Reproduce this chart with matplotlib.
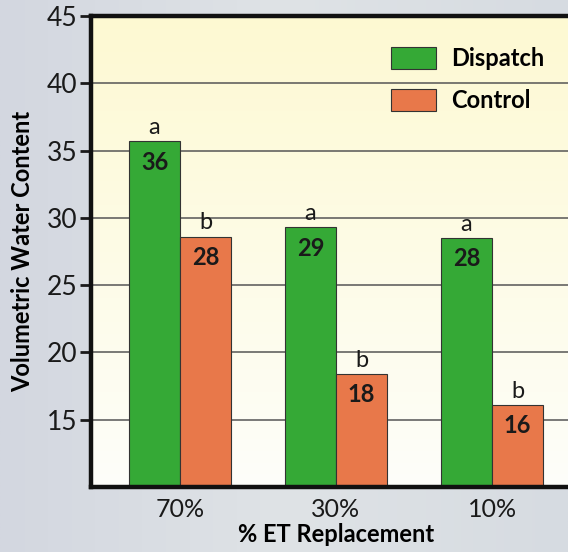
import matplotlib.pyplot as plt
import numpy as np
from matplotlib.colors import LinearSegmentedColormap

# data
categories = ['70%', '30%', '10%']
dispatch = [35.7, 29.3, 28.5]
control = [28.6, 18.4, 16.1]
dispatch_labels = ['36', '29', '28']
control_labels = ['28', '18', '16']
dispatch_letters = ['a', 'a', 'a']
control_letters = ['b', 'b', 'b']
yticks = [15, 20, 25, 30, 35, 40, 45]

plt.rcParams['font.family'] = ['Lato', 'DejaVu Sans']

green = '#35a936'
orange = '#e8784a'

fig = plt.figure(figsize=(5.68, 5.52), dpi=100)

# greyish background
bg = fig.add_axes([0, 0, 1, 1], zorder=-10)
grad = np.linspace(0, 1, 256).reshape(1, -1)
bg.imshow(np.vstack([grad] * 2), aspect='auto', extent=[0, 1, 0, 1],
          cmap=LinearSegmentedColormap.from_list('bgc', ['#d3d7e0', '#dfe3e6', '#d6dbe1']))
bg.axis('off')

ax = fig.add_axes([91 / 568, 65 / 552, 490 / 568, 471 / 552])

x = np.arange(len(categories))
w = 0.327

# cream gradient inside plot
vgrad = np.linspace(0, 1, 256).reshape(-1, 1)
ax.imshow(vgrad, aspect='auto', extent=[-0.57, 2.57, 10, 45], origin='lower', zorder=0,
          cmap=LinearSegmentedColormap.from_list('cr', ['#fefefa', '#fdf9d2']))

for yv in yticks[:-1]:
    ax.axhline(yv, color='#555555', lw=1.1, zorder=1)

ax.bar(x - w / 2, dispatch, w, color=green, edgecolor='#333333', lw=0.8, zorder=2, label='Dispatch')
ax.bar(x + w / 2, control, w, color=orange, edgecolor='#333333', lw=0.8, zorder=2, label='Control')

for i in range(len(categories)):
    ax.text(x[i] - w / 2, dispatch[i] - 0.7, dispatch_labels[i], ha='center', va='top',
            fontsize=17, fontweight='bold', color='#1a1a1a', zorder=3)
    ax.text(x[i] + w / 2, control[i] - 0.7, control_labels[i], ha='center', va='top',
            fontsize=17, fontweight='bold', color='#1a1a1a', zorder=3)
    ax.text(x[i] - w / 2, dispatch[i] + 0.25, dispatch_letters[i], ha='center', va='bottom',
            fontsize=17, color='#1a1a1a', zorder=3)
    ax.text(x[i] + w / 2, control[i] + 0.25, control_letters[i], ha='center', va='bottom',
            fontsize=17, color='#1a1a1a', zorder=3)

ax.set_xlim(-0.57, 2.57)
ax.set_ylim(10, 45)
ax.set_yticks(yticks)
ax.set_xticks(x)
ax.set_xticklabels(categories)
ax.tick_params(axis='y', length=8, width=2, labelsize=19, pad=2, colors='#1a1a1a')
ax.tick_params(axis='x', length=0, labelsize=18, pad=8, colors='#1a1a1a')

for s in ['left', 'bottom', 'top']:
    ax.spines[s].set_linewidth(3.2)
    ax.spines[s].set_color('#111111')
ax.spines['right'].set_visible(False)

ax.set_ylabel('Volumetric Water Content', fontsize=17, fontweight='bold', labelpad=9)
ax.set_xlabel('% ET Replacement', fontsize=17, fontweight='bold', labelpad=1)

ax.legend(loc='upper left', bbox_to_anchor=(0.612, 0.934), frameon=False, borderpad=0,
          borderaxespad=0, prop={'weight': 'bold', 'size': 17}, handlelength=1.9,
          handleheight=1.06, labelspacing=0.78, handletextpad=0.64)

fig.savefig('out.png', dpi=100, facecolor=fig.get_facecolor())
